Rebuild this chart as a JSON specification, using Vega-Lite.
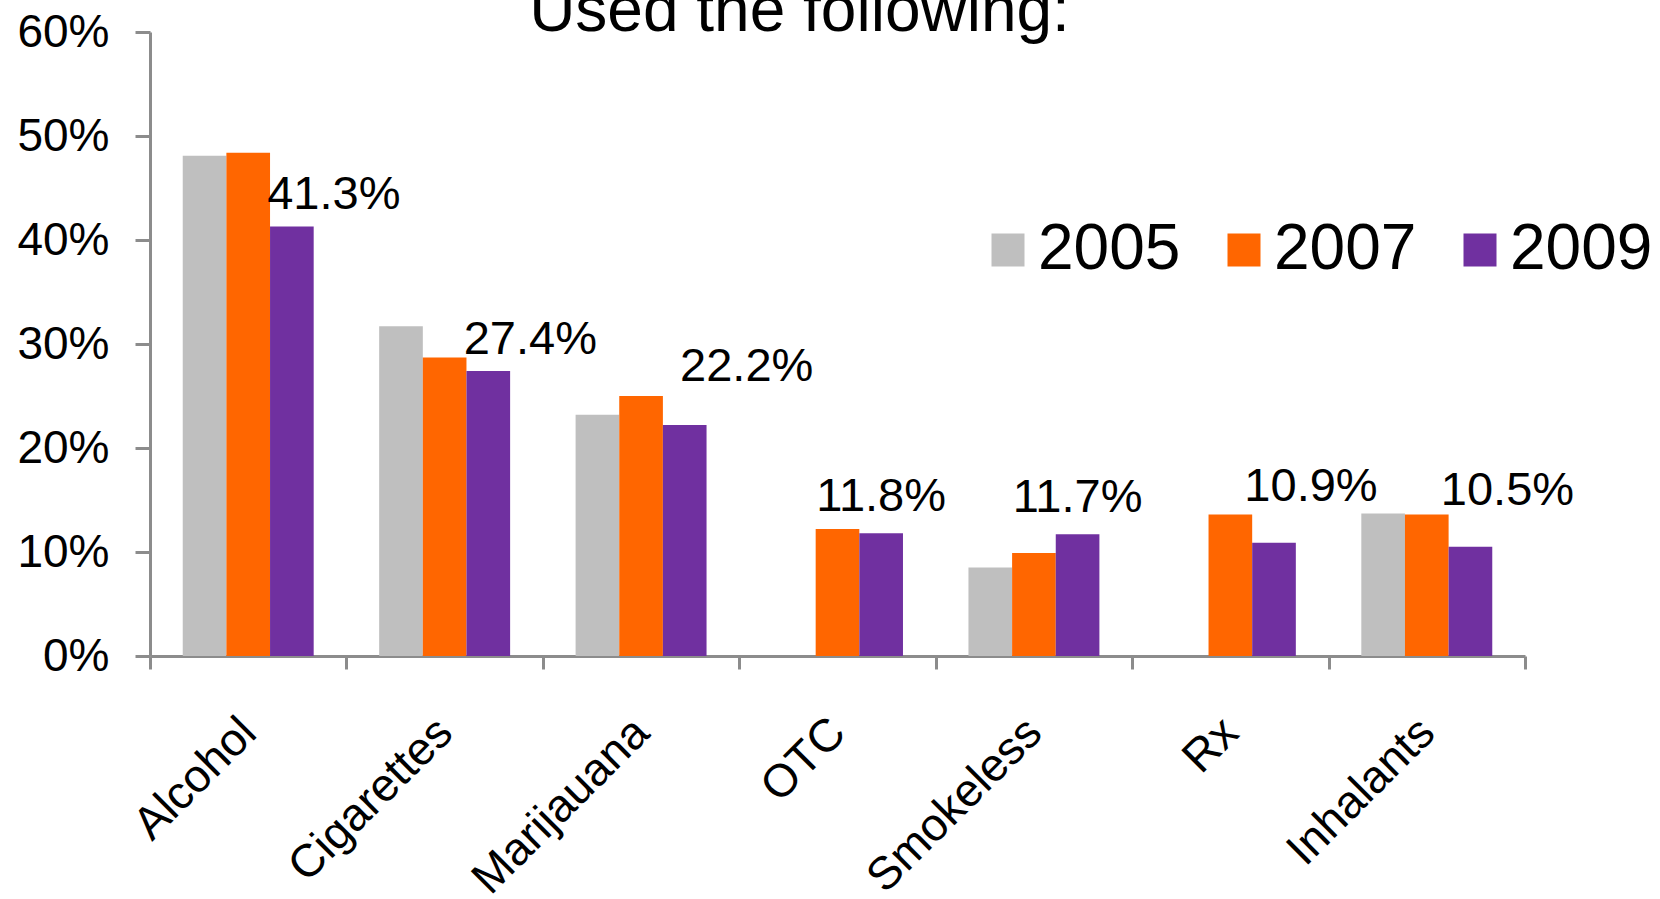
{
  "$schema": "https://vega.github.io/schema/vega-lite/v6.json",
  "width": 1375,
  "height": 624,
  "autosize": {"type": "none"},
  "padding": {"left": 150, "top": 32, "right": 135, "bottom": 243},
  "background": "white",
  "config": {
    "view": {"stroke": null},
    "font": "Liberation Sans"
  },
  "title": {
    "text": "Used the following:",
    "fontSize": 64,
    "fontWeight": "normal",
    "font": "Liberation Sans",
    "color": "black",
    "anchor": "middle",
    "frame": "group",
    "dx": -38,
    "dy": 35,
    "offset": 0
  },
  "data": {
    "values": [
      {"category": "Alcohol", "year": "2005", "value": 0.481},
      {"category": "Alcohol", "year": "2007", "value": 0.484},
      {"category": "Alcohol", "year": "2009", "value": 0.413},
      {"category": "Cigarettes", "year": "2005", "value": 0.317},
      {"category": "Cigarettes", "year": "2007", "value": 0.287},
      {"category": "Cigarettes", "year": "2009", "value": 0.274},
      {"category": "Marijauana", "year": "2005", "value": 0.232},
      {"category": "Marijauana", "year": "2007", "value": 0.250},
      {"category": "Marijauana", "year": "2009", "value": 0.222},
      {"category": "OTC", "year": "2007", "value": 0.122},
      {"category": "OTC", "year": "2009", "value": 0.118},
      {"category": "Smokeless", "year": "2005", "value": 0.085},
      {"category": "Smokeless", "year": "2007", "value": 0.099},
      {"category": "Smokeless", "year": "2009", "value": 0.117},
      {"category": "Rx", "year": "2007", "value": 0.136},
      {"category": "Rx", "year": "2009", "value": 0.109},
      {"category": "Inhalants", "year": "2005", "value": 0.137},
      {"category": "Inhalants", "year": "2007", "value": 0.136},
      {"category": "Inhalants", "year": "2009", "value": 0.105}
    ]
  },
  "encoding": {
    "x": {
      "field": "category",
      "type": "nominal",
      "sort": ["Alcohol", "Cigarettes", "Marijauana", "OTC", "Smokeless", "Rx", "Inhalants"],
      "scale": {"paddingInner": 0, "paddingOuter": 0},
      "axis": {
        "title": null,
        "tickBand": "extent",
        "tickSize": 13,
        "tickWidth": 3,
        "tickColor": "#8c8c8c",
        "domainColor": "#8c8c8c",
        "domainWidth": 3,
        "labelAngle": -45,
        "labelAlign": "right",
        "labelBaseline": "middle",
        "labelFontSize": 46,
        "labelColor": "black",
        "labelPadding": 56,
        "labelLimit": 0
      }
    },
    "xOffset": {
      "field": "year",
      "type": "nominal",
      "scale": {"domain": ["2005", "2007", "2009"], "paddingInner": 0, "paddingOuter": 0.75}
    },
    "y": {
      "field": "value",
      "type": "quantitative",
      "scale": {"domain": [0, 0.6], "nice": false},
      "axis": {
        "title": null,
        "values": [0, 0.1, 0.2, 0.3, 0.4, 0.5, 0.6],
        "format": ".0%",
        "grid": false,
        "tickSize": 15,
        "tickWidth": 3,
        "tickColor": "#8c8c8c",
        "domainColor": "#8c8c8c",
        "domainWidth": 3,
        "labelFontSize": 46,
        "labelColor": "black",
        "labelPadding": 26
      }
    }
  },
  "layer": [
    {
      "mark": {"type": "bar"},
      "encoding": {
        "color": {
          "field": "year",
          "type": "nominal",
          "scale": {"domain": ["2005", "2007", "2009"], "range": ["#bfbfbf", "#ff6600", "#7030a0"]},
          "legend": {
            "orient": "none",
            "legendX": 826,
            "legendY": 186,
            "direction": "horizontal",
            "title": null,
            "symbolType": "square",
            "symbolSize": 1089,
            "symbolStrokeWidth": 0,
            "labelFontSize": 64,
            "labelColor": "black",
            "labelOffset": -2,
            "columnPadding": 31,
            "labelLimit": 0,
            "padding": 0
          }
        }
      }
    },
    {
      "transform": [
        {"filter": "datum.year == '2009' && (datum.category == 'OTC' || datum.category == 'Smokeless')"}
      ],
      "mark": {"type": "text", "fontSize": 47, "color": "black", "align": "center", "baseline": "alphabetic", "dx": 0, "dy": -22},
      "encoding": {"text": {"field": "value", "type": "quantitative", "format": ".1%"}}
    },
    {
      "transform": [
        {"filter": "datum.year == '2009' && (datum.category == 'Alcohol' || datum.category == 'Cigarettes')"}
      ],
      "mark": {"type": "text", "fontSize": 47, "color": "black", "align": "center", "baseline": "alphabetic", "dx": 42, "dy": -17},
      "encoding": {"text": {"field": "value", "type": "quantitative", "format": ".1%"}}
    },
    {
      "transform": [
        {"filter": "datum.year == '2009' && datum.category == 'Marijauana'"}
      ],
      "mark": {"type": "text", "fontSize": 47, "color": "black", "align": "center", "baseline": "alphabetic", "dx": 62, "dy": -44},
      "encoding": {"text": {"field": "value", "type": "quantitative", "format": ".1%"}}
    },
    {
      "transform": [
        {"filter": "datum.year == '2009' && (datum.category == 'Rx' || datum.category == 'Inhalants')"}
      ],
      "mark": {"type": "text", "fontSize": 47, "color": "black", "align": "center", "baseline": "alphabetic", "dx": 37, "dy": -42},
      "encoding": {"text": {"field": "value", "type": "quantitative", "format": ".1%"}}
    }
  ]
}
